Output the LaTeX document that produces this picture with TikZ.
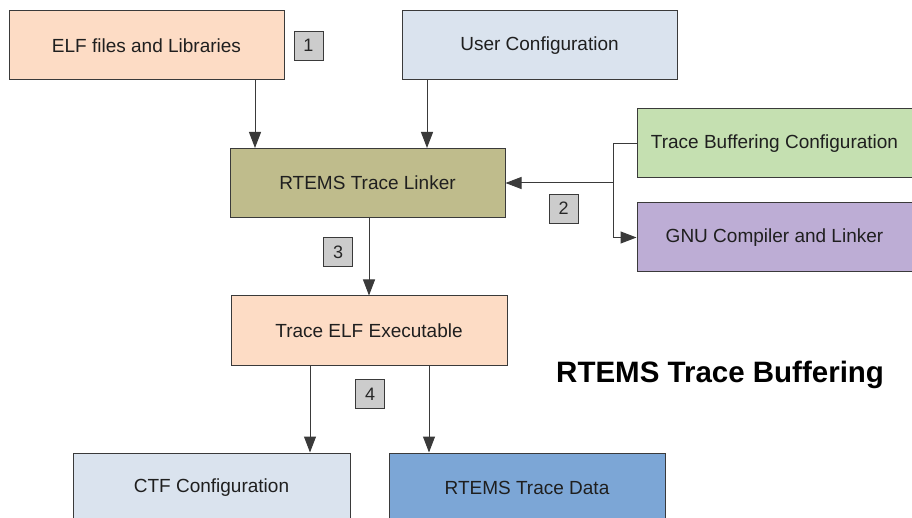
\documentclass[tikz,border=0pt]{standalone}
\usepackage{fontspec}
\setmainfont{Liberation Sans}
\usetikzlibrary{arrows.meta}
\definecolor{peach}{HTML}{FDDCC5}
\definecolor{lblue}{HTML}{DAE3EE}
\definecolor{olive}{HTML}{BFBC8C}
\definecolor{lgreen}{HTML}{C5E0B1}
\definecolor{lpurple}{HTML}{BDADD5}
\definecolor{mblue}{HTML}{7CA6D6}
\definecolor{badgegray}{HTML}{CCCCCC}
\definecolor{edge}{HTML}{3A3A3A}
\begin{document}
\begin{tikzpicture}[x=1pt,y=-1pt,
  box/.style={draw=edge, line width=1pt, inner sep=0pt, font=\fontsize{19}{22}\selectfont, text=black!88},
  badge/.style={draw=edge, fill=badgegray, line width=0.8pt, minimum width=29pt, minimum height=29pt, inner sep=0pt, font=\fontsize{18}{20}\selectfont, text=black!85},
  conn/.style={draw=edge, line width=1pt},
  arr/.style={conn, -{Triangle[length=16pt,width=12pt]}}]
\useasboundingbox (0,0) rectangle (912,518);
\begin{scope}
\clip (0,0) rectangle (912,518);
\node[box, fill=peach, minimum width=275pt, minimum height=69pt] (elf) at (146.5,45.5) {ELF files and Libraries};
\node[box, fill=lblue, minimum width=275pt, minimum height=69pt] (user) at (539.5,45.5) {User Configuration};
\node[box, fill=olive, minimum width=275pt, minimum height=69pt] (linker) at (367.5,183) {RTEMS Trace Linker};
\node[box, fill=lgreen, minimum width=275pt, minimum height=69pt] (tbc) at (774.5,143.5) {Trace Buffering Configuration};
\node[box, fill=lpurple, minimum width=275pt, minimum height=69pt] (gnu) at (774.5,237.5) {GNU Compiler and Linker};
\node[box, fill=peach, minimum width=276pt, minimum height=69pt] (tee) at (369,330.5) {Trace ELF Executable};
\node[box, fill=lblue, minimum width=277pt, minimum height=69pt] (ctf) at (211.5,487.5) {CTF Configuration};
\node[box, fill=mblue, minimum width=276pt, minimum height=69pt] (data) at (527,487.5) {RTEMS Trace Data};
\end{scope}
\node[badge] (b1) at (308.5,45.5) {1};
\node[badge] (b2) at (563.5,208.5) {2};
\node[badge] (b3) at (338,252) {3};
\node[badge] (b4) at (370,394) {4};
\node[font=\bfseries\fontsize{29.5}{34}\selectfont, anchor=base west, inner sep=0pt] (title) at (556,382) {RTEMS Trace Buffering};
\coordinate (j) at (613,183);
\draw[arr] (elf.south -| 255,0) -- (linker.north -| 255,0);
\draw[arr] (user.south -| 427,0) -- (linker.north -| 427,0);
\draw[conn] (tbc.west) -| (j);
\draw[arr] (j) -- (linker.east);
\draw[arr] (j) |- (gnu.west);
\draw[arr] (linker.south -| 369,0) -- (tee.north -| 369,0);
\draw[arr] (tee.south -| 310,0) -- (ctf.north -| 310,0);
\draw[arr] (tee.south -| 429,0) -- (data.north -| 429,0);
\end{tikzpicture}
\end{document}
